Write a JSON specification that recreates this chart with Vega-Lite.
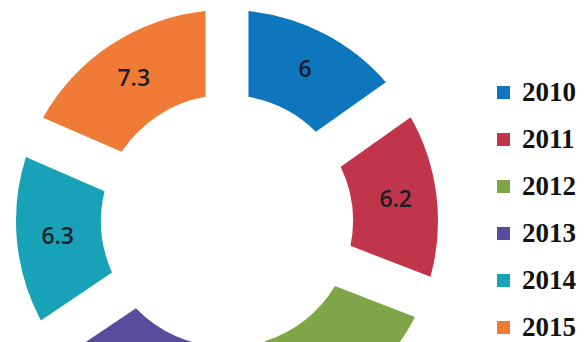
{
  "$schema": "https://vega.github.io/schema/vega-lite/v6.json",
  "width": 454,
  "height": 442,
  "padding": 0,
  "background": "white",
  "config": {"view": {"stroke": null}},
  "data": {
    "values": [
      {"year": "2010", "value": 6},
      {"year": "2011", "value": 6.2},
      {"year": "2012", "value": 6.7},
      {"year": "2013", "value": 7.0},
      {"year": "2014", "value": 6.3},
      {"year": "2015", "value": 7.3}
    ]
  },
  "layer": [
    {
      "mark": {"type": "arc", "radius": 211, "innerRadius": 126, "padAngle": 0.175},
      "encoding": {
        "theta": {"field": "value", "type": "quantitative", "stack": true},
        "order": {"field": "year", "type": "ordinal"},
        "color": {
          "field": "year",
          "type": "nominal",
          "scale": {
            "domain": ["2010", "2011", "2012", "2013", "2014", "2015"],
            "range": ["#0e76bc", "#c1354a", "#7ea646", "#5b4b9c", "#17a2b8", "#ef7b36"]
          },
          "legend": {
            "title": null,
            "orient": "none",
            "legendX": 490,
            "legendY": 79,
            "symbolType": "square",
            "symbolSize": 169,
            "symbolStrokeWidth": 0,
            "labelFont": "Liberation Serif",
            "labelFontWeight": "bold",
            "labelFontSize": 27,
            "labelColor": "#111111",
            "labelOffset": 5,
            "rowPadding": 19
          }
        }
      }
    },
    {
      "mark": {"type": "text", "radius": 170, "font": "Open Sans", "fontSize": 23, "fontWeight": 600, "fill": "#1c1c28"},
      "encoding": {
        "theta": {"field": "value", "type": "quantitative", "stack": true},
        "order": {"field": "year", "type": "ordinal"},
        "detail": {"field": "year", "type": "nominal"},
        "text": {
          "condition": {"test": "datum.year == '2012' || datum.year == '2013'", "value": ""},
          "field": "value",
          "type": "quantitative"
        }
      }
    }
  ]
}
